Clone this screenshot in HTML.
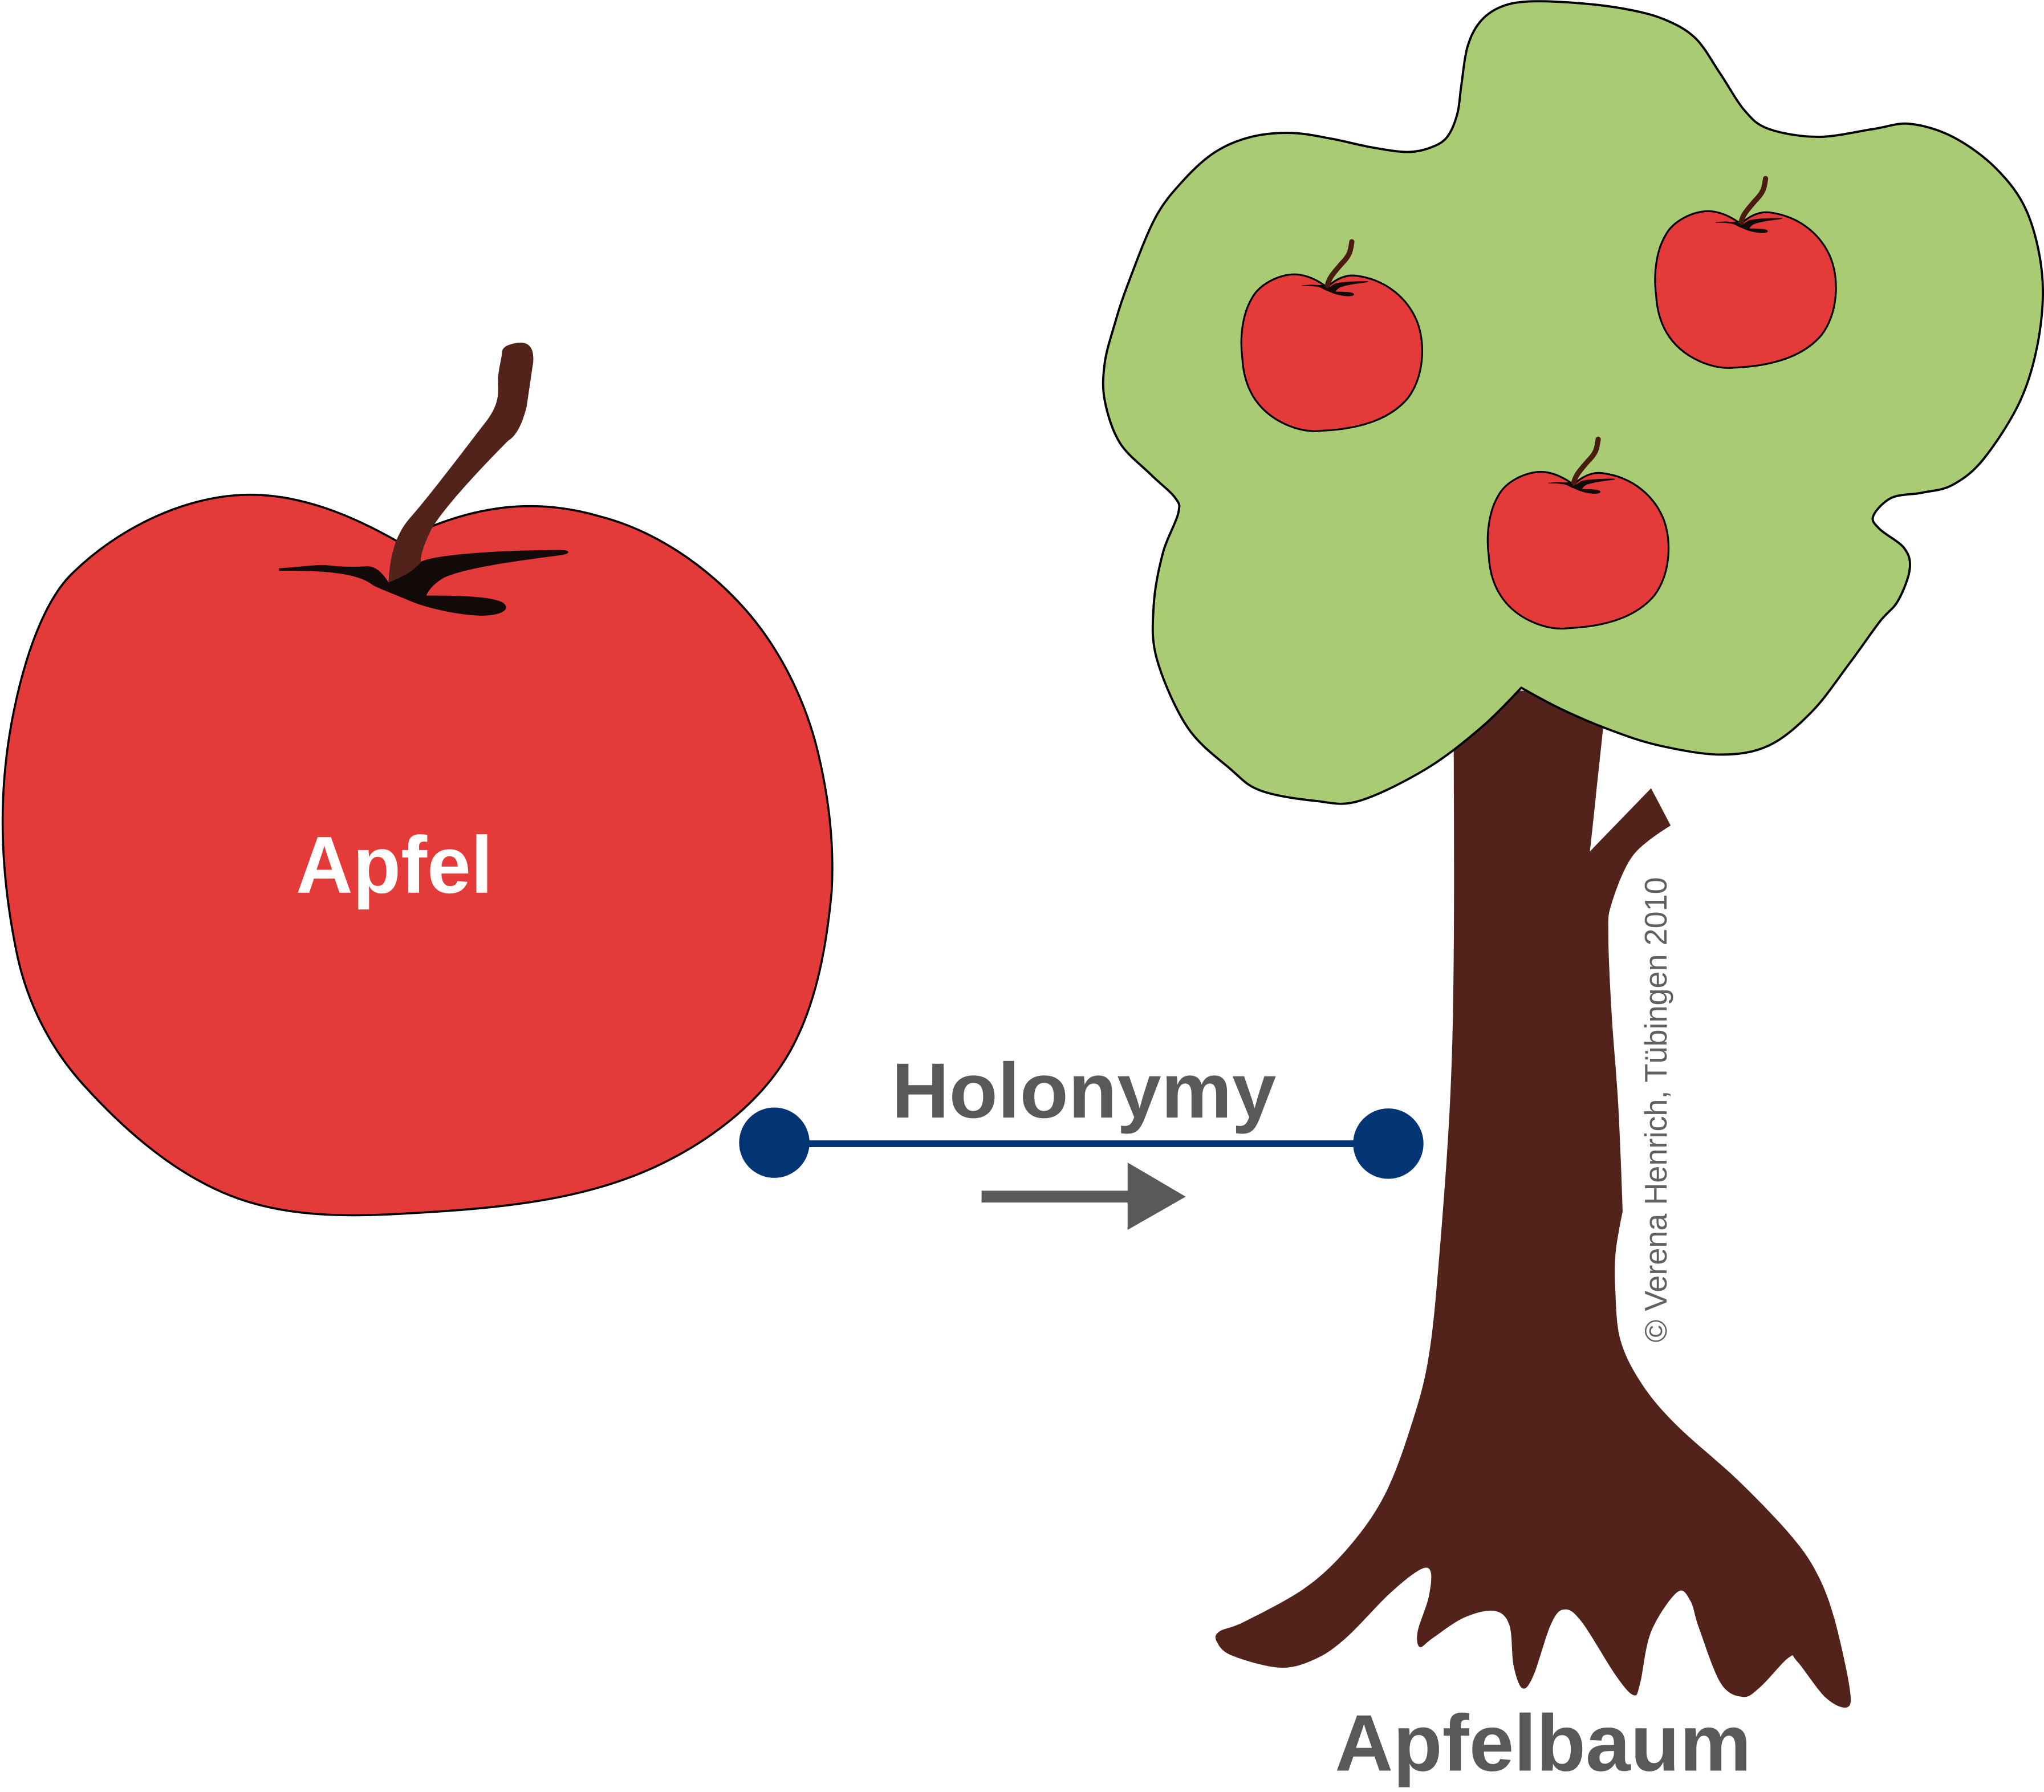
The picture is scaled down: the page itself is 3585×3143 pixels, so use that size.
<!DOCTYPE html>
<html>
<head>
<meta charset="utf-8">
<style>
html,body{margin:0;padding:0;background:#ffffff;width:3585px;height:3143px;overflow:hidden}
svg{display:block}
</style>
</head>
<body>
<svg width="3585" height="3143" viewBox="0 0 1568 1375" preserveAspectRatio="none" xmlns="http://www.w3.org/2000/svg" xmlns:xlink="http://www.w3.org/1999/xlink">
<defs>
  <path id="leafdark" fill="#120909" d="M 214,436 C 230,435 240,433.5 249,433.5 C 258,434.5 268,435.5 281,434.5 C 288,434 294,440 298,447 L 323,431 C 335,425 390,422 430,422 C 438,422 438,425 430,426 C 400,430 360,435 341,443 C 334,447 329,452 327,457 C 345,457 375,457 385,462 C 392,466 388,472 370,472.4 C 350,472 325,466 312,460 C 300,455 292,452 286,449 C 275,440 250,437.5 214,438 Z"/>
  <g id="sapple">
    <path d="M 66,11 C 60,6 50,1 41,1 C 30,1 14,8 8,20 C 1,32 -1,50 1,65 C 2,85 10,105 34,116 C 45,121 55,122 62,121 C 85,120 112,115 128,96 C 140,80 142,55 135,37 C 128,20 112,5 88,2 C 80,1 72,5 66,11 Z" fill="#e43a3a" stroke="#000" stroke-width="1.4"/>
    <path d="M 66,11 C 67,4 71,0 77,-7 C 83,-13 84,-16 85,-24" fill="none" stroke="#4a1c10" stroke-width="4" stroke-linecap="round"/>
    <use xlink:href="#leafdark" href="#leafdark" transform="translate(66,12) scale(0.23) translate(-298,-447)"/>
  </g>
</defs>

<!-- Big apple -->
<path fill="#e43a3a" stroke="#000" stroke-width="1.6" stroke-linejoin="round" d="M 305.4,415.7 C 271,396 232,379.6 192,379.6 C 142,379.6 89.4,406 54.4,441 C 26.4,469 9.2,537.6 4.2,587.6 C -0.8,635.6 3,683 12.6,730 C 20,767.2 37.5,802.7 62.8,831 C 96.8,869 139.4,905.8 188,921.4 C 234.6,936.4 285.8,932.8 334.7,929.7 C 391.6,926.1 450.2,919.4 502,895.6 C 541,877.6 579.9,849.3 602.5,812.7 C 625.6,775.3 633.9,727.8 638,684 C 640,648 636,612.8 627.6,577.8 C 617.9,536.9 597.4,495.6 569,464.6 C 540,432.9 501.7,406.9 460,396.2 C 405,380 355,390 305.4,415.7 Z"/>
<use xlink:href="#leafdark" href="#leafdark"/>
<path d="M 298,447 C 299,430 302,412 314,398 C 330,380 360,340 374,322 C 384,308 382,300 382,290 C 383,280 385,275 385,270 C 386,265 392,264 397,263 C 405,262 410,266 409,278 L 404,312 C 400,328 395,335 390,338 C 370,358 340,390 331,406 C 325,418 322,428 323,431 C 318,438 308,443 298,447 Z" fill="#52231b"/>
<text x="227" y="685" font-family="'Liberation Sans', Arial, sans-serif" font-weight="bold" font-size="62" fill="#ffffff" textLength="151" lengthAdjust="spacingAndGlyphs">Apfel</text>

<!-- Tree trunk -->
<path id="trunk" fill="#52231b" d="M 1115,530 L 1115.3,717.7 L 1112.6,840 L 1104.2,962.5 L 1095.9,1041.4 L 1082.5,1094 L 1062.4,1146.7 L 1035.6,1186 L 1002,1217.8 L 955.3,1244 L 935.2,1252 L 933.6,1260 L 945.3,1270.4 L 982,1279.6 L 1008.9,1273 L 1032.3,1257 L 1065.8,1223 L 1089,1204.6 L 1097.5,1206 L 1095.9,1225.7 L 1087.5,1252 L 1089.2,1263.8 L 1099,1257 L 1122.7,1241.4 L 1146,1236 L 1157.8,1246.7 L 1161.1,1278 L 1167.8,1295.4 L 1176.2,1286 L 1189.6,1246.7 L 1199.6,1235 L 1213,1244 L 1239.8,1286 L 1253.2,1300.7 L 1258.2,1291.5 L 1266.6,1252 L 1286.6,1221.7 L 1296.7,1228.3 L 1303.4,1249.4 L 1320,1291.5 L 1336.9,1302 L 1350.2,1294.6 L 1372,1272 L 1378.7,1274.8 L 1400.4,1302.5 L 1417,1310 L 1418.8,1294.6 L 1407,1241.4 L 1393.7,1207 L 1373.7,1178 L 1333.5,1136 L 1286.6,1094 L 1259.9,1062.5 L 1243.1,1028.3 L 1239.1,988.8 L 1239.5,960 L 1244.8,929.4 L 1241.5,849.6 L 1236.4,779 L 1233.8,717.7 L 1236.4,693 L 1253,656 L 1281.6,633.4 L 1266.6,604.8 L 1219.7,653.3 L 1229.7,559.7 L 1232,530 Z"/>

<!-- Foliage -->
<path id="foliage" fill="#a9cb73" stroke="#000" stroke-width="1.7" stroke-linejoin="round" d="M 1117.9,87.5 L 1121,65.6 L 1125.6,36.4 L 1134.8,17.5 L 1150.1,5.8 L 1171.6,1.2 L 1208.4,2.2 L 1245.2,6.6 L 1276,14.6 L 1300.5,29.2 L 1319.7,56.6 L 1338.5,85 L 1357,99 L 1395,105 L 1437,99 L 1465,95 L 1498,105 L 1531,129 L 1554.7,162 L 1566.5,210 L 1564,259 L 1550,307 L 1521.8,352 L 1498,372 L 1474.8,378 L 1451,382 L 1437,396 L 1442,406 L 1460.7,420.5 L 1465,436.7 L 1456,461 L 1442,477 L 1418.4,509.5 L 1390,546 L 1357,572 L 1319.7,579 L 1272.7,572 L 1235,560 L 1197.5,544 L 1167,527.7 L 1136.5,558 L 1094,590 L 1042.5,614.6 L 1009.6,614.6 L 967,606.6 L 943.8,590 L 910.9,558 L 887.4,505.5 L 885,465 L 892,424.6 L 903.8,394 L 901.5,382 L 882.7,364 L 859,339.7 L 847.4,307 L 847.4,279 L 854.5,250.7 L 865,218.7 L 886,167.6 L 907.7,138.5 L 932.3,116.6 L 959.9,105 L 990.6,102 L 1021.2,106.4 L 1051.9,113 L 1079.5,116.6 L 1098,113 L 1110.2,105 Z"/>

<!-- Small apples -->
<use xlink:href="#sapple" href="#sapple" transform="translate(952,209.5)"/>
<use xlink:href="#sapple" href="#sapple" transform="translate(1269.4,161)"/>
<use xlink:href="#sapple" href="#sapple" transform="translate(1141,361)"/>

<!-- Connector -->
<line x1="594" y1="877.6" x2="1065" y2="877.6" stroke="#033474" stroke-width="5.2"/>
<circle cx="594" cy="876.8" r="27" fill="#033474"/>
<circle cx="1065" cy="877.5" r="27" fill="#033474"/>
<text x="684" y="857.5" font-family="'Liberation Sans', Arial, sans-serif" font-weight="bold" font-size="60" fill="#58595b" textLength="295" lengthAdjust="spacingAndGlyphs">Holonymy</text>
<path d="M 753,913.6 H 865 V 892 L 909.6,918.2 L 865,943.7 V 922.7 H 753 Z" fill="#58595b"/>

<!-- Labels -->
<text x="1024" y="1358.6" font-family="'Liberation Sans', Arial, sans-serif" font-weight="bold" font-size="61.5" fill="#58595b" textLength="319.5" lengthAdjust="spacingAndGlyphs">Apfelbaum</text>
<text transform="translate(1278.5,1030) rotate(-90)" font-family="'Liberation Sans', Arial, sans-serif" font-size="24" fill="#5f6062" textLength="357" lengthAdjust="spacingAndGlyphs">© Verena Henrich, Tübingen 2010</text>
</svg>
<script>
(function(){
  var corners={foliage:[39],trunk:[0,56,62,63,64,65,66]};
  for (var id in corners){
    var el=document.getElementById(id); if(!el) continue;
    var nums=el.getAttribute('d').match(/-?\d+(\.\d+)?/g).map(Number);
    var p=[]; for(var i=0;i+1<nums.length;i+=2){p.push([nums[i],nums[i+1]]);}
    var n=p.length, c=corners[id];
    var isC=function(k){return c.indexOf(k)>=0;};
    var d='M'+p[0][0]+','+p[0][1];
    for(var j=0;j<n;j++){
      var p0=p[(j-1+n)%n],p1=p[j],p2=p[(j+1)%n],p3=p[(j+2)%n];
      var c1=isC(j)?p1:[p1[0]+(p2[0]-p0[0])/6,p1[1]+(p2[1]-p0[1])/6];
      var c2=isC((j+1)%n)?p2:[p2[0]-(p3[0]-p1[0])/6,p2[1]-(p3[1]-p1[1])/6];
      d+=' C'+c1[0].toFixed(2)+','+c1[1].toFixed(2)+' '+c2[0].toFixed(2)+','+c2[1].toFixed(2)+' '+p2[0]+','+p2[1];
    }
    el.setAttribute('d',d+' Z');
  }
})();
</script>
</body>
</html>
